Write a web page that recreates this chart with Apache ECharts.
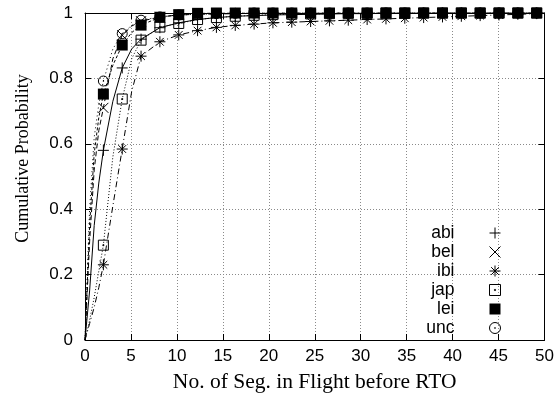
<!DOCTYPE html>
<html>
<head>
<meta charset="utf-8">
<script src="https://cdn.jsdelivr.net/npm/echarts@6/dist/echarts.min.js"></script>
<style>html,body{margin:0;padding:0;background:#fff;}#c{width:558px;height:402px;}</style>
</head>
<body>
<div id="c"></div>
<script>
// x positions of the sampled points (line vertices)
const xVals = [0, 0.5, 1, 1.5, 2, 3.03, 4.05, 5.08, 6.1, 8.15, 10.2, 12.25, 14.3, 16.35, 18.4, 20.45, 22.5, 24.55, 26.6, 28.65, 30.7, 32.75, 34.8, 36.85, 38.9, 40.95, 43, 45.05, 47.1, 49.15, 50];
// x positions where point markers are drawn
const markX = [2, 4.05, 6.1, 8.15, 10.2, 12.25, 14.3, 16.35, 18.4, 20.45, 22.5, 24.55, 26.6, 28.65, 30.7, 32.75, 34.8, 36.85, 38.9, 40.95, 43, 45.05, 47.1, 49.15];

const names = ['abi', 'bel', 'ibi', 'jap', 'lei', 'unc'];
const abi = [0, 0.15, 0.35, 0.48, 0.58, 0.73, 0.832, 0.89, 0.92, 0.955, 0.97, 0.98, 0.986, 0.99, 0.992, 0.994, 0.995, 0.996, 0.997, 0.998, 0.998, 0.999, 0.999, 1, 1, 1, 1, 1, 1, 1, 1];
const bel = [0, 0.30, 0.52, 0.64, 0.71, 0.86, 0.932, 0.96, 0.975, 0.988, 0.994, 0.996, 0.997, 0.998, 0.999, 0.999, 1, 1, 1, 1, 1, 1, 1, 1, 1, 1, 1, 1, 1, 1, 1];
const ibi = [0, 0.05, 0.10, 0.16, 0.23, 0.41, 0.584, 0.76, 0.868, 0.912, 0.933, 0.946, 0.956, 0.962, 0.966, 0.97, 0.972, 0.974, 0.976, 0.978, 0.98, 0.982, 0.984, 0.986, 0.988, 0.99, 0.992, 0.994, 0.996, 0.998, 0.999];
const jap = [0, 0.06, 0.13, 0.21, 0.29, 0.56, 0.737, 0.86, 0.917, 0.957, 0.968, 0.98, 0.986, 0.99, 0.993, 0.995, 0.996, 0.997, 0.998, 0.999, 0.999, 1, 1, 1, 1, 1, 1, 1, 1, 1, 1];
const lei = [0, 0.35, 0.57, 0.68, 0.752, 0.84, 0.902, 0.94, 0.963, 0.987, 0.995, 0.999, 1, 1, 1, 1, 1, 1, 1, 1, 1, 1, 1, 1, 1, 1, 1, 1, 1, 1, 1];
const unc = [0, 0.40, 0.62, 0.72, 0.792, 0.89, 0.937, 0.962, 0.978, 0.988, 0.994, 0.996, 0.998, 0.999, 1, 1, 1, 1, 1, 1, 1, 1, 1, 1, 1, 1, 1, 1, 1, 1, 1];
const seriesVals = [abi, bel, ibi, jap, lei, unc];

const xTicks = [0, 5, 10, 15, 20, 25, 30, 35, 40, 45, 50];
const yTicks = [0, 0.2, 0.4, 0.6, 0.8, 1];

const symbols = [
  'path://M0,5L10,5M5,0L5,10',
  'path://M0,0L10,10M10,0L0,10',
  'path://M0,5L10,5M5,0L5,10M1.5,1.5L8.5,8.5M8.5,1.5L1.5,8.5',
  'path://M0,0L10,0L10,10L0,10ZM4.5,4.5L5.5,4.5L5.5,5.5L4.5,5.5Z',
  'path://M0,0L10,0L10,10L0,10Z',
  'path://M0,5A5,5,0,1,1,10,5A5,5,0,1,1,0,5ZM4.6,5A0.4,0.4,0,1,1,5.4,5A0.4,0.4,0,1,1,4.6,5Z'
];
const symSizes = [11, 10, 11, 10, 11, 10];
const filled = [false, false, false, false, true, false];
const dashes = ['solid', [5, 3], [6, 3, 1, 3], [1, 2], [3, 2], [1, 3]];

const series = [];
names.forEach((n, i) => {
  const vals = seriesVals[i];
  series.push({
    name: n + '_line', type: 'line', symbol: 'none', silent: true,
    data: xVals.map((x, k) => [x, vals[k]]),
    lineStyle: { color: '#000', width: 1, type: dashes[i] },
    z: 3 + i
  });
  series.push({
    name: n, type: 'scatter', symbol: symbols[i], symbolSize: symSizes[i], symbolKeepAspect: true,
    data: xVals.map((x, k) => [x, vals[k]]).filter(p => markX.includes(p[0])),
    itemStyle: filled[i]
      ? { color: '#000', borderColor: '#000', borderWidth: 0, opacity: 1 }
      : { color: 'rgba(0,0,0,0)', borderColor: '#000', borderWidth: 1, opacity: 1 },
    z: 3 + i
  });
});

const axisCommon = {
  axisLine: { show: true, onZero: false, lineStyle: { color: '#000', width: 1 } },
  axisTick: { show: true, inside: true, length: 6, lineStyle: { color: '#000', width: 1 } },
  minorTick: { show: false }
};
const labelFont = { color: '#000', fontSize: 17, fontFamily: 'Liberation Sans' };
const gridLine = { show: true, lineStyle: { color: '#8a8a8a', width: 1, type: [1, 2] } };

const chart = echarts.init(document.getElementById('c'), null, { renderer: 'canvas' });
chart.setOption({
  animation: false,
  backgroundColor: '#fff',
  grid: { left: 85, right: 13.5, top: 13, bottom: 62, containLabel: false },
  legend: {
    orient: 'vertical', right: 52, top: 219, align: 'right',
    itemWidth: 71, itemHeight: 11, itemGap: 1.0,
    symbolKeepAspect: true, selectedMode: false,
    data: names.map((n, i) => ({
      name: n,
      itemStyle: filled[i]
        ? { color: '#000', borderWidth: 0 }
        : { color: 'rgba(0,0,0,0)', borderColor: '#000', borderWidth: 1 }
    })),
    textStyle: { color: '#000', fontSize: 17.5, fontFamily: 'Liberation Sans', lineHeight: 16 }
  },
  xAxis: [
    Object.assign({
      type: 'value', position: 'bottom', min: xTicks[0], max: xTicks[xTicks.length - 1], interval: 5,
      axisLabel: Object.assign({ margin: 8 }, labelFont),
      splitLine: gridLine,
      name: 'No. of Seg. in Flight before RTO', nameLocation: 'middle', nameGap: 31,
      nameTextStyle: { color: '#000', fontSize: 21.5, fontFamily: 'Liberation Serif' }
    }, axisCommon),
    Object.assign({
      type: 'value', position: 'top', min: xTicks[0], max: xTicks[xTicks.length - 1], interval: 5,
      axisLabel: { show: false }, splitLine: { show: false }
    }, axisCommon)
  ],
  yAxis: [
    Object.assign({
      type: 'value', position: 'left', min: yTicks[0], max: yTicks[yTicks.length - 1], interval: 0.2,
      axisLabel: Object.assign({ margin: 12 }, labelFont),
      splitLine: gridLine,
      name: 'Cumulative Probability', nameLocation: 'middle', nameGap: 53,
      nameTextStyle: { color: '#000', fontSize: 18, fontFamily: 'Liberation Serif', padding: [0, 0, 0, 36] }
    }, axisCommon),
    Object.assign({
      type: 'value', position: 'right', min: yTicks[0], max: yTicks[yTicks.length - 1], interval: 0.2,
      axisLabel: { show: false }, splitLine: { show: false }
    }, axisCommon)
  ],
  series: series
});
</script>
</body>
</html>
